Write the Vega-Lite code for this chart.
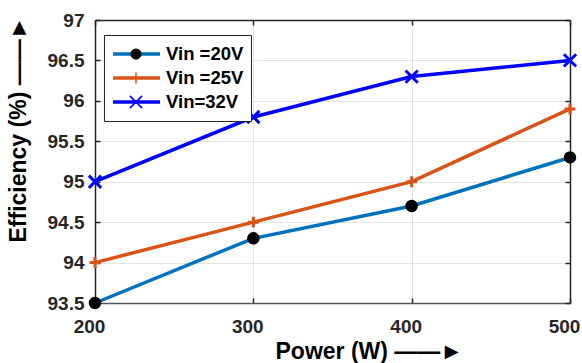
{
  "$schema": "https://vega.github.io/schema/vega-lite/v6.json",
  "width": 475,
  "height": 283,
  "autosize": "none",
  "padding": {"left": 95, "top": 20, "right": 12, "bottom": 60},
  "background": "white",
  "config": {
    "font": "Liberation Sans",
    "view": {"stroke": null},
    "axis": {
      "labelFont": "Liberation Sans",
      "labelFontSize": 19,
      "labelFontWeight": "bold",
      "labelColor": "#262626",
      "labelFlush": false,
      "titleFont": "Liberation Sans",
      "titleFontSize": 23,
      "titleFontWeight": "bold",
      "titleColor": "black",
      "domain": true,
      "domainColor": "#262626",
      "domainWidth": 1.5,
      "tickColor": "#262626",
      "tickWidth": 1.5,
      "tickSize": -5,
      "gridColor": "#e3e3e3",
      "gridWidth": 1
    }
  },
  "data": {
    "values": [
      {"power": 200, "eff": 93.5, "series": "Vin =20V"},
      {"power": 300, "eff": 94.3, "series": "Vin =20V"},
      {"power": 400, "eff": 94.7, "series": "Vin =20V"},
      {"power": 500, "eff": 95.3, "series": "Vin =20V"},
      {"power": 200, "eff": 94.0, "series": "Vin =25V"},
      {"power": 300, "eff": 94.5, "series": "Vin =25V"},
      {"power": 400, "eff": 95.0, "series": "Vin =25V"},
      {"power": 500, "eff": 95.9, "series": "Vin =25V"},
      {"power": 200, "eff": 95.0, "series": "Vin=32V"},
      {"power": 300, "eff": 95.8, "series": "Vin=32V"},
      {"power": 400, "eff": 96.3, "series": "Vin=32V"},
      {"power": 500, "eff": 96.5, "series": "Vin=32V"}
    ]
  },
  "layer": [
    {
      "mark": {"type": "line", "strokeWidth": 3.5, "clip": false},
      "encoding": {
        "x": {
          "field": "power", "type": "quantitative",
          "scale": {"domain": [200, 500], "nice": false, "zero": false},
          "axis": {
            "values": [200, 300, 400, 500],
            "labelPadding": 19,
            "labelOffset": -6,
            "domainColor": "#555555",
            "title": "Power (W) ——►",
            "titleX": 180,
            "titleY": 55,
            "titleAlign": "left",
            "titleBaseline": "alphabetic",
            "grid": true
          }
        },
        "y": {
          "field": "eff", "type": "quantitative",
          "scale": {"domain": [93.5, 97], "nice": false, "zero": false},
          "axis": {
            "values": [93.5, 94, 94.5, 95, 95.5, 96, 96.5, 97],
            "format": ".1~f",
            "labelPadding": 16,
            "title": "Efficiency (%) ——►",
            "titleX": -70,
            "titleY": 222,
            "titleAlign": "left",
            "titleBaseline": "alphabetic",
            "grid": true
          }
        },
        "color": {
          "field": "series", "type": "nominal",
          "scale": {"domain": ["Vin =20V", "Vin =25V", "Vin=32V"], "range": ["#0072BD", "#D95319", "#0000FF"]},
          "legend": {
            "title": null,
            "orient": "none",
            "legendX": 9,
            "legendY": 15,
            "symbolType": "stroke",
            "symbolSize": 2209,
            "symbolStrokeWidth": 3.5,
            "labelFont": "Liberation Sans",
            "labelFontSize": 18.5,
            "labelFontWeight": "bold",
            "labelColor": "black",
            "labelOffset": 4,
            "clipHeight": 24,
            "rowPadding": 0,
            "padding": 7,
            "fillColor": "white",
            "strokeColor": "#262626"
          }
        }
      }
    },
    {
      "mark": {"type": "point", "strokeWidth": 3, "opacity": 1, "clip": false},
      "encoding": {
        "x": {
          "field": "power", "type": "quantitative",
          "axis": {"orient": "top", "labels": false, "grid": false, "title": null, "values": [200, 300, 400, 500]}
        },
        "y": {
          "field": "eff", "type": "quantitative",
          "axis": {"orient": "right", "labels": false, "grid": false, "title": null, "values": [93.5, 94, 94.5, 95, 95.5, 96, 96.5, 97]}
        },
        "shape": {
          "field": "series", "type": "nominal",
          "scale": {"range": ["circle", "M-1,0H1M0,-1V1", "M-1,-1L1,1M-1,1L1,-1"]},
          "legend": {
            "title": null,
            "orient": "none",
            "legendX": 9,
            "legendY": 15,
            "labelExpr": "''",
            "clipHeight": 24,
            "rowPadding": 0,
            "padding": 7,
            "symbolOffset": 18,
            "fillColor": "transparent",
            "strokeColor": "transparent"
          }
        },
        "stroke": {
          "field": "series", "type": "nominal",
          "scale": {"range": ["black", "#D95319", "#0000FF"]}
        },
        "fill": {
          "field": "series", "type": "nominal",
          "scale": {"range": ["black", "transparent", "transparent"]}
        },
        "size": {
          "field": "series", "type": "nominal",
          "scale": {"range": [90, 150, 130]}
        }
      }
    }
  ],
  "resolve": {"axis": {"x": "independent", "y": "independent"}}
}
